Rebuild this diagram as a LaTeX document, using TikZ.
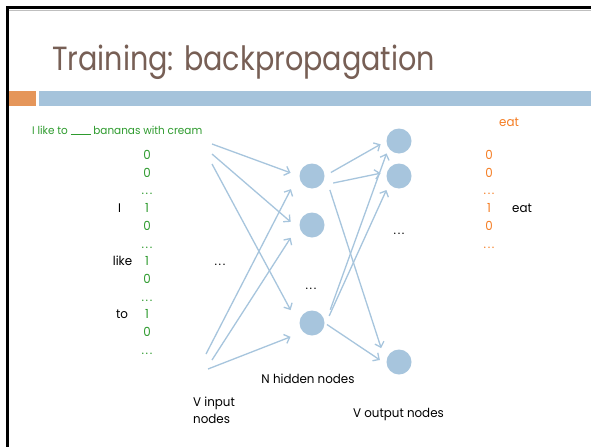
\documentclass[tikz,border=0pt]{standalone}
\usepackage{fontspec}
\setmainfont{Poppins}
\newfontfamily\titlefont{Poppins}[FakeStretch=0.855]
\newfontfamily\bodyfont{Poppins}[FakeStretch=0.95]
\newfontfamily\sentfont{Poppins}[FakeStretch=0.95]
\usetikzlibrary{arrows.meta}

\definecolor{titlebrown}{RGB}{119,95,85}
\definecolor{barblue}{RGB}{165,195,219}
\definecolor{barorange}{RGB}{229,150,90}
\definecolor{nodeblue}{RGB}{167,197,221}
\definecolor{wordgreen}{RGB}{46,155,46}
\definecolor{wordorange}{RGB}{245,125,35}

% spaced three-dot ellipsis
\newcommand\dotrow{.\kern1.6pt.\kern1.6pt.}

\tikzset{
  neuron/.style={circle, fill=nodeblue, minimum size=25pt, inner sep=0pt},
  arr/.style={draw=nodeblue, line width=1.3pt, -{Straight Barb[length=4.8pt,width=9.5pt]}},
  txt/.style={anchor=base, inner sep=0pt, font=\bodyfont\fontsize{12.5}{15}\selectfont},
  bit/.style={txt, text=wordgreen},
  obit/.style={txt, text=wordorange},
}

\begin{document}
\begin{tikzpicture}[x=1pt, y=-1pt]
\useasboundingbox (0,0) rectangle (591,447);
\fill[white] (0,0) rectangle (591,447);

% slide frame
\fill[black] (6,6) rectangle (591,9);
\fill[black] (6,6) rectangle (8.5,447);
\draw[black!25, line width=0.6pt] (8.5,10) -- (591,10);

% title and header bars
\node[anchor=base west, inner sep=0pt, text=titlebrown,
      font=\titlefont\fontsize{33.5}{40}\selectfont] (title) at (52,70) {Training: backpropagation};
\fill[barorange] (8.5,91) rectangle (36,106);
\fill[barblue] (39,91) rectangle (591,106);

% sentence
\node[anchor=base west, inner sep=0pt, text=wordgreen,
      font=\sentfont\fontsize{11}{13}\selectfont] (sentence) at (32,134)
      {I like to \rule[-0.8pt]{20pt}{0.7pt}\ bananas with cream};

% one-hot input column
\node[bit] (g1) at (147,159.5) {0};
\node[bit] (g2) at (147,177.2) {0};
\node[bit] (g3) at (147,194.9) {\dotrow};
\node[bit] (g4) at (147,212.6) {1};
\node[bit] (g5) at (147,230.3) {0};
\node[bit] (g6) at (147,248.0) {\dotrow};
\node[bit] (g7) at (147,265.7) {1};
\node[bit] (g8) at (147,283.4) {0};
\node[bit] (g9) at (147,301.1) {\dotrow};
\node[bit] (g10) at (147,318.8) {1};
\node[bit] (g11) at (147,336.5) {0};
\node[bit] (g12) at (147,354.2) {\dotrow};

\node[txt] (wI) at (119.5,212.6) {I};
\node[txt] (wlike) at (122.5,265.7) {like};
\node[txt] (wto) at (122,318.8) {to};
\node[txt] (indots) at (220,265) {\dotrow};

% one-hot output column
\node[obit] (eattop) at (509,126.7) {eat};
\node[obit] (r1) at (489,159.5) {0};
\node[obit] (r2) at (489,177.2) {0};
\node[obit] (r3) at (489,194.9) {\dotrow};
\node[obit] (r4) at (489,212.6) {1};
\node[obit] (r5) at (489,230.3) {0};
\node[obit] (r6) at (489,248.0) {\dotrow};
\node[txt] (weat) at (522,212.6) {eat};

% hidden layer
\node[neuron] (h1) at (312,176) {};
\node[neuron] (h2) at (312,225) {};
\node[neuron] (h3) at (312,323) {};
\node[txt] (hdots) at (311,289) {\dotrow};

% output layer
\node[neuron] (o1) at (399,141) {};
\node[neuron] (o2) at (399,176) {};
\node[neuron] (o3) at (399,362) {};
\node[txt] (odots) at (399,234) {\dotrow};

% loose ends of the input connections
\coordinate (s1) at (212,144);
\coordinate (s2) at (212,154);
\coordinate (s3) at (212,164);
\coordinate (b1) at (206,354);
\coordinate (b2) at (212,360);
\coordinate (b3) at (208,369);

% input -> hidden
\draw[arr, shorten >=9.3pt] (s1) -- (h1.west);
\draw[arr, shorten >=13pt] (s2) -- (h2.205);
\draw[arr, shorten >=21.5pt] (s3) -- (h3.208);
\draw[arr, shorten >=21.3pt] (b1) -- (h1.153);
\draw[arr, shorten >=16pt] (b2) -- (h2.177);
\draw[arr, shorten >=13.4pt] (b3) -- (h3.225);

% hidden -> output
\draw[arr, shorten <=7.1pt, shorten >=6.6pt] (h1.east) -- (o1.west);
\draw[arr, shorten <=13.3pt, shorten >=6.6pt] (h1.-50) -- (o2.161);
\draw[arr, shorten <=18.3pt, shorten >=18.3pt] (h1.16) -- (o3.196);
\draw[arr, shorten <=18.5pt, shorten >=5.7pt] (h3.-19.4) -- (o1.214);
\draw[arr, shorten <=13.2pt, shorten >=6.6pt] (h3.-23.4) -- (o2.219.5);
\draw[arr, shorten <=2.7pt, shorten >=8pt] (h3.east) -- (o3.191);

% layer captions
\node[txt] (hcap) at (308,383) {N hidden nodes};
\node[txt, anchor=base west] (icap1) at (193,406) {V input};
\node[txt, anchor=base west] (icap2) at (193,423) {nodes};
\node[txt] (ocap) at (398.5,417) {V output nodes};
\end{tikzpicture}
\end{document}
